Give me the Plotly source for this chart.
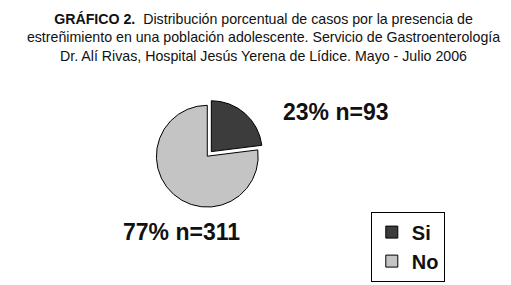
import plotly.graph_objects as go

categories = ["Si", "No"]
percents = [23, 77]
counts = [93, 311]
colors = ["#3c3c3c", "#c4c4c4"]

fig = go.Figure()
fig.add_trace(go.Pie(
    labels=categories,
    values=counts,
    sort=False,
    direction="clockwise",
    rotation=0,
    pull=[0.12, 0],
    marker=dict(colors=colors, line=dict(color="#000000", width=1)),
    textinfo="none",
    hoverinfo="label+percent",
    domain=dict(x=[0.27, 0.51], y=[0.28, 0.68]),
))

label_pos = [(0.535, 0.635, "left"), (0.222, 0.215, "left")]
for cat, p, n, (x, y, anc) in zip(categories, percents, counts, label_pos):
    fig.add_annotation(
        text=f"{p}% n={n}", x=x, y=y, xref="paper", yref="paper",
        xanchor=anc, yanchor="middle", showarrow=False,
        font=dict(family="Liberation Sans", size=23, color="#111111", weight="bold"),
    )

title = ("<b>GRÁFICO 2.</b>  Distribución porcentual de casos por la presencia de<br>"
         "estreñimiento en una población adolescente. Servicio de Gastroenterología<br>"
         "Dr. Alí Rivas, Hospital Jesús Yerena de Lídice. Mayo - Julio 2006")

fig.update_layout(
    width=511, height=285,
    margin=dict(l=0, r=0, t=0, b=0),
    paper_bgcolor="white", plot_bgcolor="white",
    title=dict(text=title, x=0.5, xanchor="center", y=0.945, yanchor="top",
               font=dict(family="Liberation Sans", size=14.2, color="#111111")),
    legend=dict(x=0.71, y=0.04, xanchor="left", yanchor="bottom",
                bordercolor="#000000", borderwidth=1, bgcolor="white",
                font=dict(family="Liberation Sans", size=20, color="#111111", weight="bold"),
                itemwidth=30, tracegroupgap=0),
    showlegend=True,
)

fig.write_html("out.html")
